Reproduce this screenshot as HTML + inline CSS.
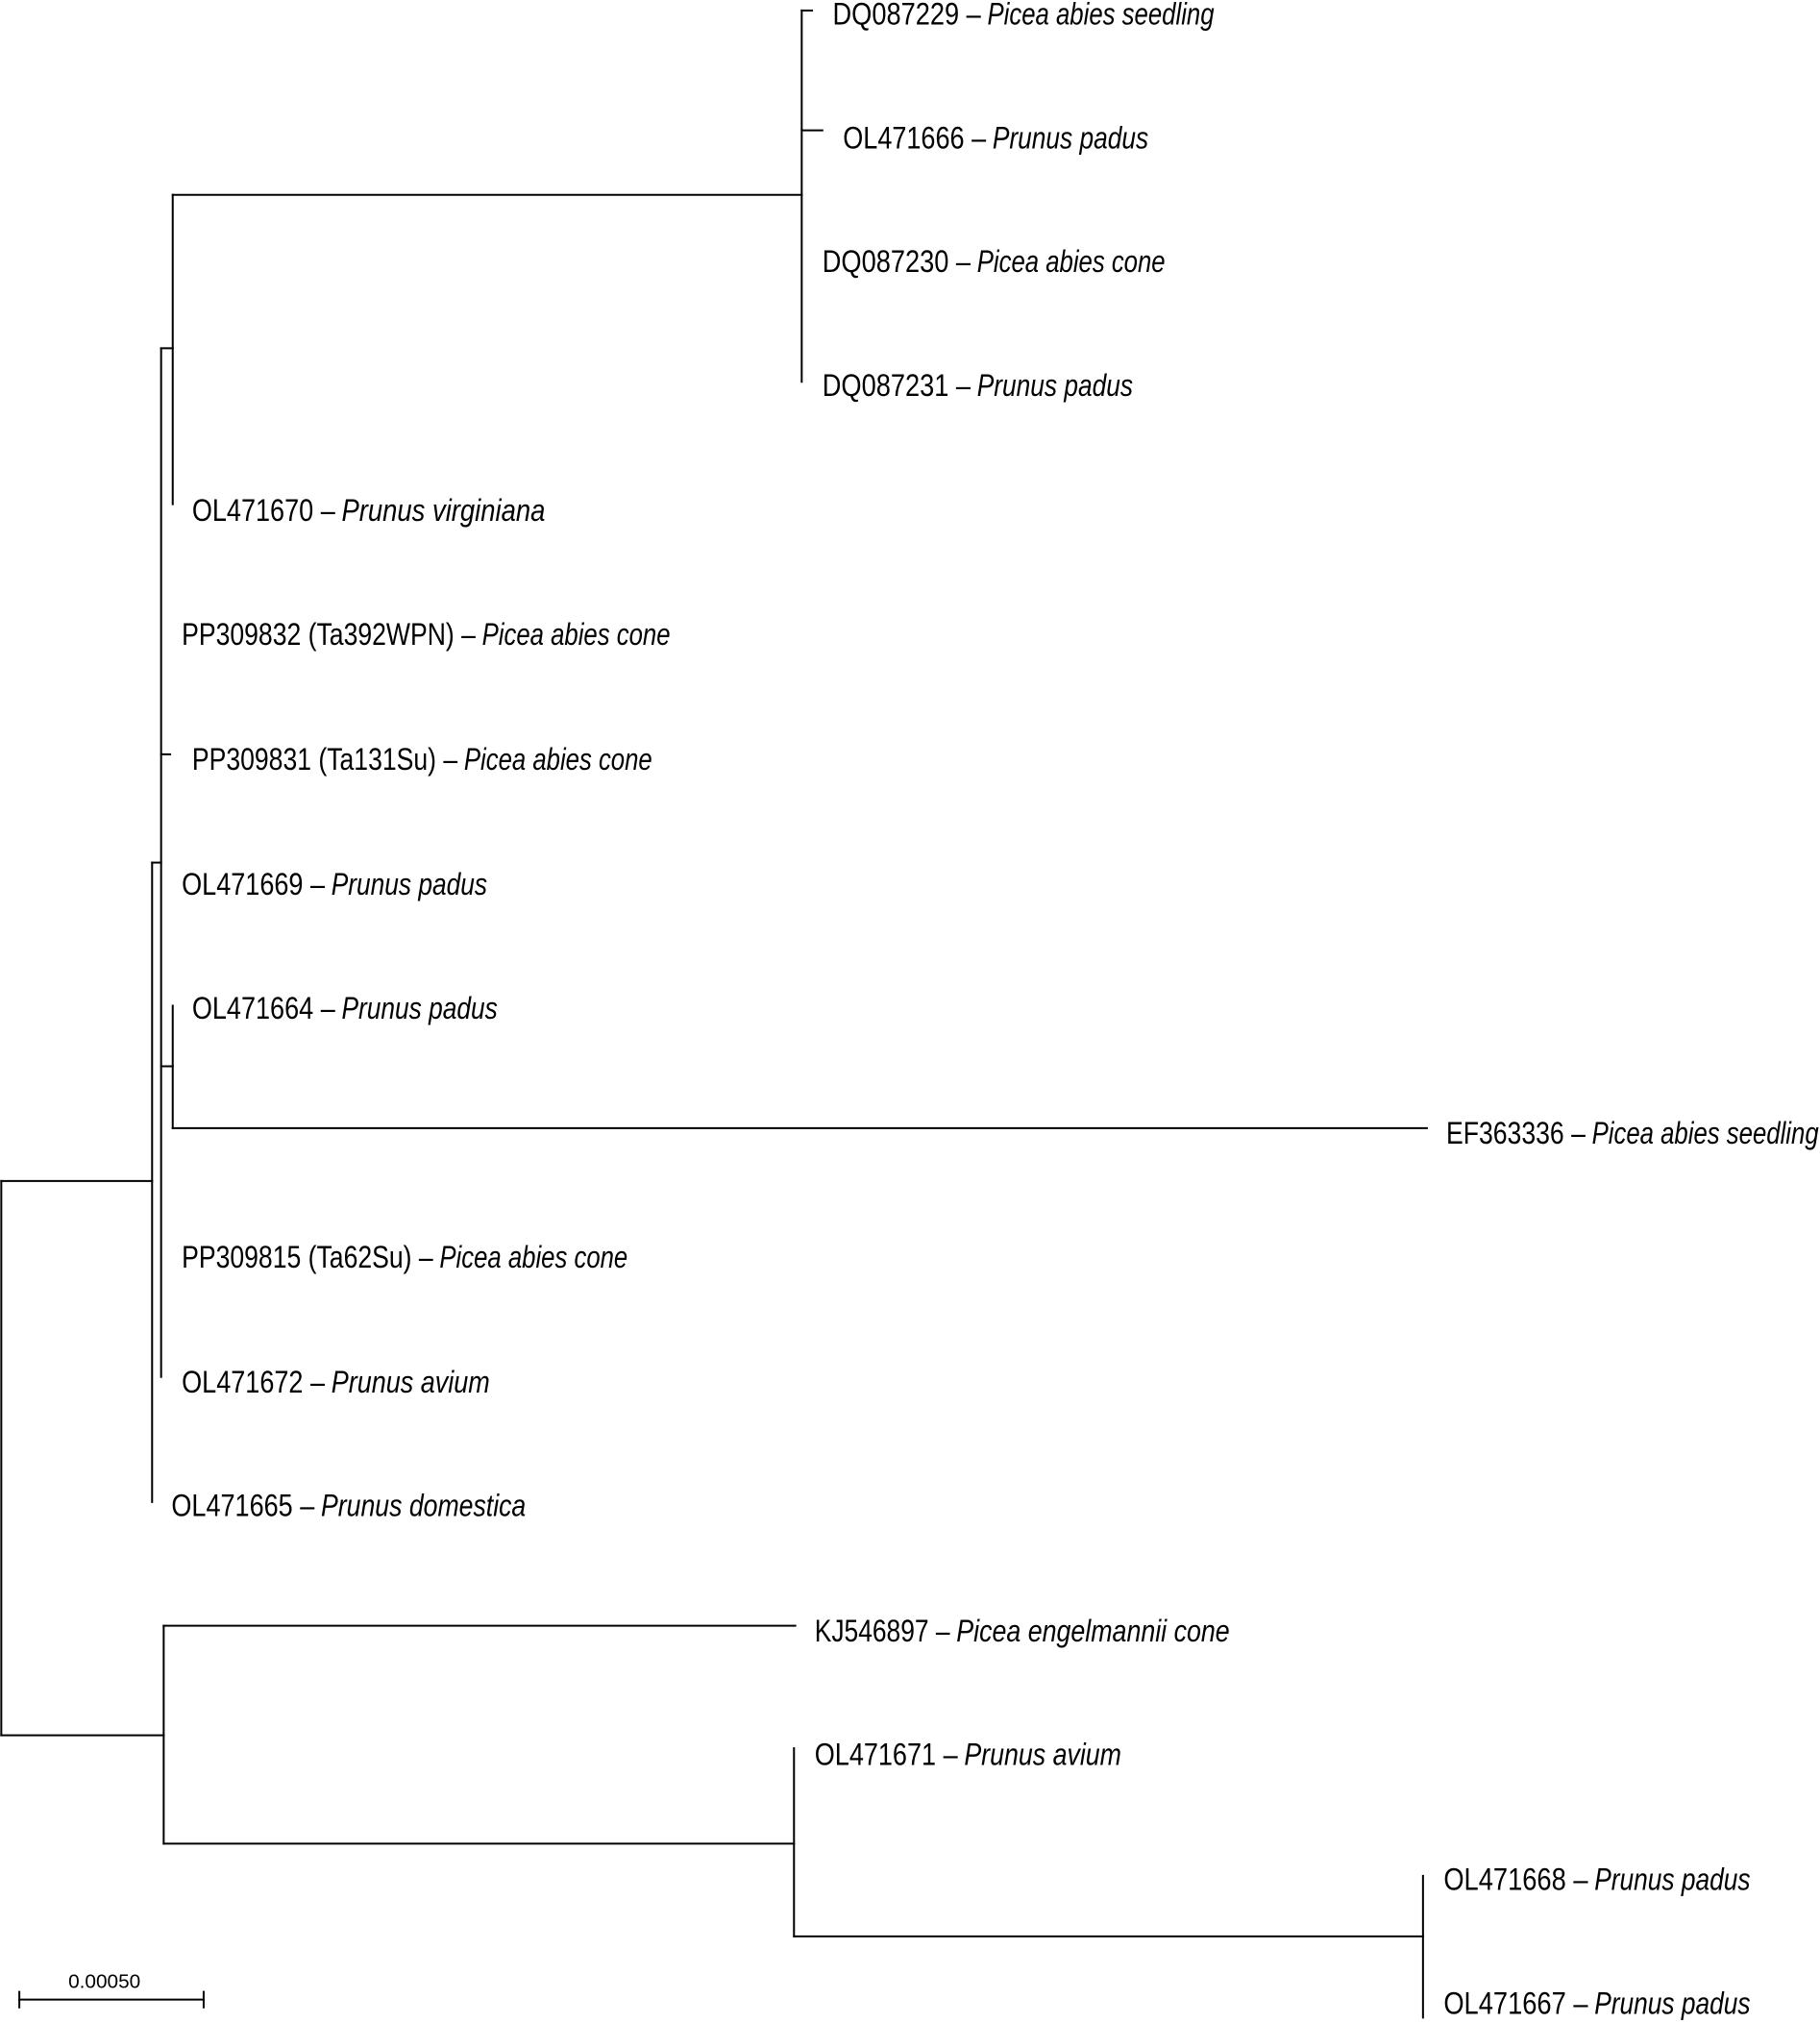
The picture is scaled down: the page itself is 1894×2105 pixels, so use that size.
<!DOCTYPE html>
<html><head><meta charset="utf-8"><style>html,body{margin:0;padding:0;background:#fff}svg{display:block}</style></head>
<body>
<svg width="1894" height="2105" viewBox="0 0 1412 1569" xmlns="http://www.w3.org/2000/svg">
<g stroke="#000" stroke-width="1.5" fill="none" stroke-linecap="square">
<!-- root -->
<path d="M1 916 V1346"/>
<path d="M1 916 H118"/>
<path d="M118 669 V1165"/>
<path d="M118 669 H125"/>
<path d="M125 270 V1068"/>
<path d="M125 270 H134"/>
<path d="M134 151 V391"/>
<path d="M134 151 H622"/>
<path d="M622 8 V296"/>
<path d="M622 8 H630"/>
<path d="M622 101 H638"/>
<path d="M125 585 H132"/>
<path d="M125 827 H134"/>
<path d="M134 780 V875"/>
<path d="M134 875 H1107"/>
<!-- bottom clade -->
<path d="M1 1346 H127"/>
<path d="M127 1261 V1430"/>
<path d="M127 1261 H617"/>
<path d="M127 1430 H616"/>
<path d="M616 1356 V1502"/>
<path d="M616 1502 H1104"/>
<path d="M1104 1455 V1565"/>
<!-- scale -->
<path d="M15 1551 H158"/>
<path d="M15 1545 V1557"/>
<path d="M158 1545 V1557"/>
</g>
<g font-family="'Liberation Sans', sans-serif" font-size="24" fill="#000">
<text x="646" y="19" textLength="115" lengthAdjust="spacingAndGlyphs">DQ087229 –</text><text x="766" y="19" textLength="176" lengthAdjust="spacingAndGlyphs" font-style="italic">Picea abies seedling</text>
<text x="654" y="115" textLength="111" lengthAdjust="spacingAndGlyphs">OL471666 –</text><text x="770" y="115" textLength="121" lengthAdjust="spacingAndGlyphs" font-style="italic">Prunus padus</text>
<text x="638" y="211" textLength="115" lengthAdjust="spacingAndGlyphs">DQ087230 –</text><text x="758" y="211" textLength="146" lengthAdjust="spacingAndGlyphs" font-style="italic">Picea abies cone</text>
<text x="638" y="307" textLength="115" lengthAdjust="spacingAndGlyphs">DQ087231 –</text><text x="758" y="307" textLength="121" lengthAdjust="spacingAndGlyphs" font-style="italic">Prunus padus</text>
<text x="149" y="404" textLength="111" lengthAdjust="spacingAndGlyphs">OL471670 –</text><text x="265" y="404" textLength="158" lengthAdjust="spacingAndGlyphs" font-style="italic">Prunus virginiana</text>
<text x="141" y="500" textLength="228" lengthAdjust="spacingAndGlyphs">PP309832 (Ta392WPN) –</text><text x="374" y="500" textLength="146" lengthAdjust="spacingAndGlyphs" font-style="italic">Picea abies cone</text>
<text x="149" y="597" textLength="206" lengthAdjust="spacingAndGlyphs">PP309831 (Ta131Su) –</text><text x="360" y="597" textLength="146" lengthAdjust="spacingAndGlyphs" font-style="italic">Picea abies cone</text>
<text x="141" y="694" textLength="111" lengthAdjust="spacingAndGlyphs">OL471669 –</text><text x="257" y="694" textLength="121" lengthAdjust="spacingAndGlyphs" font-style="italic">Prunus padus</text>
<text x="149" y="790" textLength="111" lengthAdjust="spacingAndGlyphs">OL471664 –</text><text x="265" y="790" textLength="121" lengthAdjust="spacingAndGlyphs" font-style="italic">Prunus padus</text>
<text x="1122" y="887" textLength="108" lengthAdjust="spacingAndGlyphs">EF363336 –</text><text x="1235" y="887" textLength="176" lengthAdjust="spacingAndGlyphs" font-style="italic">Picea abies seedling</text>
<text x="141" y="983" textLength="195" lengthAdjust="spacingAndGlyphs">PP309815 (Ta62Su) –</text><text x="341" y="983" textLength="146" lengthAdjust="spacingAndGlyphs" font-style="italic">Picea abies cone</text>
<text x="141" y="1080" textLength="111" lengthAdjust="spacingAndGlyphs">OL471672 –</text><text x="257" y="1080" textLength="123" lengthAdjust="spacingAndGlyphs" font-style="italic">Prunus avium</text>
<text x="133" y="1176" textLength="111" lengthAdjust="spacingAndGlyphs">OL471665 –</text><text x="249" y="1176" textLength="159" lengthAdjust="spacingAndGlyphs" font-style="italic">Prunus domestica</text>
<text x="632" y="1273" textLength="105" lengthAdjust="spacingAndGlyphs">KJ546897 –</text><text x="742" y="1273" textLength="212" lengthAdjust="spacingAndGlyphs" font-style="italic">Picea engelmannii cone</text>
<text x="632" y="1369" textLength="111" lengthAdjust="spacingAndGlyphs">OL471671 –</text><text x="748" y="1369" textLength="122" lengthAdjust="spacingAndGlyphs" font-style="italic">Prunus avium</text>
<text x="1120" y="1466" textLength="112" lengthAdjust="spacingAndGlyphs">OL471668 –</text><text x="1237" y="1466" textLength="121" lengthAdjust="spacingAndGlyphs" font-style="italic">Prunus padus</text>
<text x="1120" y="1562" textLength="112" lengthAdjust="spacingAndGlyphs">OL471667 –</text><text x="1237" y="1562" textLength="121" lengthAdjust="spacingAndGlyphs" font-style="italic">Prunus padus</text>
<text x="53" y="1542" font-size="15" textLength="56" lengthAdjust="spacingAndGlyphs">0.00050</text>
</g>
</svg>
</body></html>
